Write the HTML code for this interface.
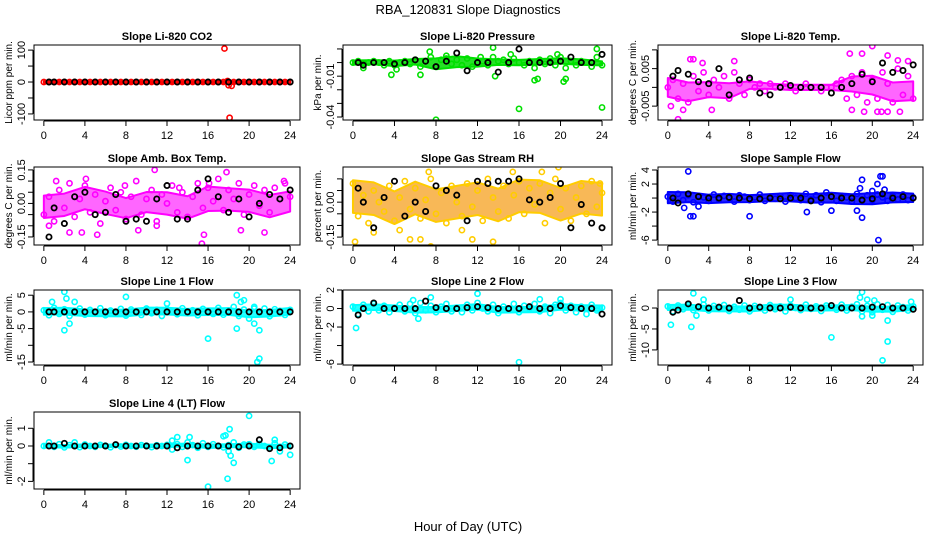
<!DOCTYPE html>
<html><head><meta charset="utf-8"><style>
html,body{margin:0;padding:0;background:#fff}
svg{display:block;font-family:"Liberation Sans",sans-serif}
</style></head><body>
<svg id="chart" width="936" height="540" viewBox="0 0 936 540" xmlns="http://www.w3.org/2000/svg">
<text x="468" y="14" text-anchor="middle" font-size="13">RBA_120831  Slope Diagnostics</text>
<text x="468" y="531" text-anchor="middle" font-size="13">Hour of Day (UTC)</text>
</svg>
<script>
const xTicks=[0,4,8,12,16,20,24];
const hours=[0,1,2,3,4,5,6,7,8,9,10,11,12,13,14,15,16,17,18,19,20,21,22,23,24];

const p1Color=[0,0,0,0,0,0,0,0,0,0,0,0,0,0,0,0,0,0,0,0,0,0,0,0,0,0,0,0,0,0,0,0,0,0,0,0,0,0,0,0,0,0,0,0,0,0,0,0,0];
const p1Band=[3,3,3,3,3,3,3,3,3,3,3,3,3];
const p1OutX=[17.6,18.1,18.0,17.9,18.3];
const p1OutY=[105,-112,-10,3,-12];
const p1Black=[0,0,0,0,0,0,0,0,0,0,0,0,0,0,0,0,0,0,0,0,0,0,0,0,0];

const p2Color=[0.000,0.001,-0.001,0.000,0.001,0.000,-0.002,0.001,-0.002,0.000,0.001,-0.001,0.002,-0.003,0.001,0.004,-0.003,0.002,0.003,-0.001,0.002,-0.002,0.003,-0.003,0.000,0.001,-0.002,0.004,0.001,0.002,-0.001,0.003,0.000,-0.002,0.001,-0.004,0.002,-0.001,0.003,-0.002,0.004,-0.004,0.001,-0.002,0.001,0.000,-0.003,0.004,-0.002];
const p2Band=[0.0015,0.0015,0.002,0.002,0.004,0.004,0.003,0.002,0.002,0.002,0.002,0.002,0.0015];
const p2OutX=[3.7,8,16,24,13.5,20.3,17.5,7.4,23.5,6.5,13.7,4.2,1,17.8,20.5,9,15.2,19.7,12.3];
const p2OutY=[-0.009,-0.042,-0.034,-0.033,0.011,-0.014,-0.013,0.008,0.01,-0.009,-0.01,-0.005,-0.004,-0.012,-0.012,0.005,0.006,0.006,0.004];
const p2Black=[0,-0.002,0,0,-0.001,0,0.002,0.001,-0.003,0.001,0.007,-0.006,0,0,-0.007,0,0.01,0,0,0,0.001,0.004,0,0,0.006];

const p3Color=[0.000,0.002,-0.003,0.001,-0.004,0.003,-0.001,0.004,-0.002,0.002,0.000,0.003,-0.003,0.004,0.001,-0.002,0.002,0.000,0.001,-0.001,0.001,0.000,0.000,0.001,0.000,-0.001,0.000,0.001,0.000,0.000,-0.001,0.000,0.000,0.001,0.002,-0.003,0.003,-0.002,0.004,-0.004,0.002,-0.003,0.004,0.001,-0.004,0.005,-0.002,0.003,-0.003];
const p3Band=[0.0025,0.0025,0.002,0.002,0.001,0.0007,0.0007,0.0007,0.0007,0.002,0.0025,0.0025,0.0025];
const p3OutX=[1,0.3,20,19,17.8,21.5,18,19.2,20.5,21.5,22.7,4.3,2.2,6.5,2.5,23.5,22.5,1.5,3.4,20.9];
const p3OutY=[-0.0085,-0.005,0.011,0.009,0.009,0.0085,-0.006,-0.0065,-0.0065,-0.0065,-0.0065,-0.006,0.0075,0.007,0.0075,0.007,0.0072,-0.006,0.0065,-0.0065];
const p3Black=[0.003,0.0045,0.0035,0.0015,0.001,0.005,-0.002,0.002,0.0025,-0.0015,-0.002,0,0.0005,0,0,0,-0.0015,0,0.001,0.0035,0.0015,0.0065,0.004,0.0045,0.006];

const p4Color=[-0.05,0.03,-0.08,0.06,-0.02,0.09,-0.06,0.02,0.08,-0.04,0.04,-0.09,0.01,0.07,-0.03,0.05,-0.07,0.03,0.10,-0.05,0.02,0.06,-0.08,0.04,0.00,0.08,-0.04,0.05,-0.06,0.03,0.09,-0.02,0.07,0.01,0.11,-0.03,0.06,0.02,0.09,-0.05,0.04,0.08,-0.01,0.06,-0.04,0.07,0.02,0.09,0.03];
const p4Band=[0.05,0.05,0.05,0.05,0.045,0.045,0.05,0.05,0.055,0.05,0.05,0.05,0.045];
const p4OutX=[2.5,3.7,4.1,1.2,0.5,15.4,15.6,10.8,17.8,11,21.5,23.4,7.9,16.1,9.2,5.2,13.2,19.2];
const p4OutY=[-0.13,-0.13,0.11,0.1,-0.1,-0.18,-0.14,0.15,0.14,-0.1,-0.13,0.1,0.08,0.09,-0.12,-0.14,0.07,-0.12];
const p4Black=[-0.15,-0.02,-0.09,0.03,0.05,-0.05,-0.04,0.04,-0.08,-0.07,-0.08,0.02,0.08,-0.07,-0.07,0.06,0.11,0.03,-0.04,0.02,-0.06,0.00,0.04,0.02,0.06];

const p5Color=[0.08,-0.06,0.03,-0.09,0.05,0.00,-0.04,0.07,-0.08,0.02,0.09,-0.03,0.06,-0.07,0.01,0.10,-0.05,0.04,-0.09,0.07,0.00,-0.06,0.08,-0.02,0.05,-0.08,0.10,0.02,-0.04,0.07,-0.07,0.03,0.09,-0.05,0.06,-0.01,0.08,-0.09,0.04,0.10,-0.03,0.06,-0.08,0.02,0.07,-0.05,0.09,-0.02,0.04];
const p5Band=[0.07,0.07,0.07,0.07,0.07,0.07,0.07,0.07,0.07,0.07,0.07,0.07,0.07];
const p5OutX=[0.2,2,4.5,5.5,6.5,7.5,11.5,13.5,7.3,19.8,15.4,23.8,18.2,10.5];
const p5OutY=[-0.17,-0.13,-0.12,-0.16,-0.16,-0.19,-0.16,-0.17,0.13,0.15,0.13,0.08,0.13,-0.12];
const p5Black=[0.06,0.00,-0.11,0.02,0.09,-0.06,0.00,-0.04,0.07,0.05,0.03,-0.08,0.09,0.08,0.09,0.09,0.10,0.01,0.00,0.02,0.08,-0.11,-0.01,-0.09,-0.11];

const p6Color=[0.2,-0.5,0.6,-0.3,0.4,-0.6,0.3,0.1,-0.4,0.5,-0.2,0.3,0.0,-0.5,0.4,0.2,-0.3,0.1,0.5,-0.4,0.2,-0.1,0.3,-0.5,0.4,0.0,-0.3,0.6,-0.2,0.4,-0.6,0.8,0.2,-0.4,0.3,0.1,-0.5,0.6,-0.2,0.4,-0.3,0.5,0.1,-0.4,0.3,-0.2,0.5,-0.3,0.1];
const p6Band=[0.8,0.7,0.6,0.6,0.5,0.5,0.6,0.6,0.7,0.7,0.8,0.7,0.6];
const p6OutX=[2,2.2,2.5,1.6,3,8,13.6,16,18.5,19,18.8,19,20,20.5,20.8,21,20.6,21.2];
const p6OutY=[3.8,-2.6,-2.6,-1.4,-1.2,-2.6,-2,-1.8,-1.8,-2.8,1.4,2.6,1.0,2,3.1,3.1,-6,1.2];
const p6Black=[0.0,-0.7,0.6,0.2,0.0,0.0,0.1,0.0,-0.1,-0.1,0.0,-0.1,0.0,0.0,-0.4,0.0,0.2,0.0,0.0,-0.3,-0.1,0.6,0.0,0.2,0.0];

const p7Color=[0.5,-1.0,1.2,-0.6,0.8,-1.2,0.3,1.0,-0.8,0.6,-0.3,1.1,-1.0,0.4,-0.5,0.9,-1.1,0.7,0.2,-0.9,1.0,-0.4,0.6,-1.2,0.8,0.0,-0.7,1.1,-0.3,0.5,-1.0,0.9,0.2,-0.6,1.2,-0.8,0.4,1.5,-1.2,0.7,-2.0,1.5,-0.5,1.0,-1.3,0.8,0.3,-0.9,0.6];
const p7Band=[1.0,1.0,1.0,1.0,1.0,1.0,1.0,1.0,1.0,1.0,1.0,1.0,1.0];
const p7OutX=[2,2.2,2.5,2,3,0.8,8,16,18.8,19.2,19.5,18.8,20.5,20.8,21,21,12,20.5];
const p7OutY=[6,4,-3.5,-5.5,3,3,4.5,-8,5,3,3.5,-5,-3.5,-15,-14,-5.5,2.5,1];
const p7Black=[0,0,0,0,0,0,0,0,0,0,0,0,0,0,0,0,0,0,0,0,0,0,0,0,0];

const p8Color=[0.2,-0.6,0.4,-0.3,0.5,-0.2,0.3,-0.4,0.1,0.4,-0.3,0.5,-0.5,0.6,-0.2,0.3,-0.4,0.2,0.5,-0.3,0.1,-0.4,0.4,-0.2,0.6,0.0,-0.3,0.4,-0.5,0.2,-0.1,0.5,-0.4,0.3,0.0,0.5,-0.3,0.2,-0.5,0.4,0.6,-0.2,0.3,-0.4,0.2,-0.6,0.4,-0.2,0.1];
const p8Band=[0.3,0.3,0.3,0.3,0.3,0.3,0.3,0.3,0.3,0.3,0.3,0.3,0.3];
const p8OutX=[0.3,16,12,7.5,6.3,18,20,5.8];
const p8OutY=[-2.1,-5.8,1.6,1.2,-1.1,1,1,0.9];
const p8Black=[-0.7,0.0,0.6,0.0,0.0,0.0,0.0,0.8,0.1,0.0,0.0,0.1,0.2,0.1,0.0,0.0,0.0,0.2,0.0,0.0,0.3,0.1,0.0,0.0,-0.6];

const p9Color=[0.4,-0.8,0.6,-0.3,0.7,-0.5,0.2,0.8,-0.6,0.5,-0.2,0.7,-0.7,0.3,-0.4,0.6,-0.8,0.5,0.1,-0.6,0.7,-0.3,0.4,-0.8,0.6,0.0,-0.5,0.8,-0.2,0.4,-0.7,0.6,0.1,-0.4,0.8,-0.6,0.3,0.9,-0.8,0.5,-1.0,0.9,-0.4,0.7,-0.9,0.6,0.2,-0.6,0.4];
const p9Band=[0.6,0.6,0.6,0.6,0.6,0.6,0.6,0.6,0.6,0.6,0.6,0.6,0.6];
const p9OutX=[0.3,2.5,2.3,2.8,3.5,12,16,19,18.8,19.5,20.2,21,21.5,21.5,19,20,23.8];
const p9OutY=[-4,3.5,-4.5,-1.8,2,2,-7,3.8,2.5,2,1.8,-12.5,-8,-3,-2,-1.8,1.5];
const p9Black=[-1.0,-0.5,1.0,0.3,0.0,0.2,0.0,1.8,0.0,0.2,0.0,0.0,0.2,0.0,0.0,0.0,0.6,0.0,0.0,0.0,0.2,0.3,0.0,0.0,-0.3];

const p10Color=[0.0,0.2,-0.05,0.1,-0.08,0.05,0.2,-0.06,0.08,0.0,-0.05,0.06,0.02,-0.07,0.05,-0.03,0.06,0.0,-0.04,0.05,0.02,-0.06,0.04,0.0,0.06,-0.2,0.1,-0.05,0.2,0.05,-0.1,0.15,-0.05,0.1,0.0,-0.08,0.05,0.2,-0.1,0.08,0.1,-0.05,0.12,0.0,-0.1,0.15,-0.05,0.08,0.0];
const p10Band=[0.07,0.07,0.07,0.07,0.07,0.07,0.07,0.08,0.1,0.08,0.1,0.1,0.08];
const p10OutX=[16,17.9,20,18.1,17.5,17.7,14,14.2,13,22.2,18.5,18.2,18,24,12.5,22.5,23];
const p10OutY=[-2.3,-1.85,1.7,0.95,0.55,0.6,-0.8,0.5,0.5,-0.85,-0.95,-0.55,-0.3,-0.5,0.3,0.35,-0.3];
const p10Black=[0,0,0.15,0,0,0,0,0.08,0,0,0,0,0,-0.1,0,0,0,0,0,-0.05,0,0.35,-0.15,-0.1,0];

const colL=[34,343,658], colR=[300,612,923];
const rowT=[45,167,290,412], rowB=[120,245,365,489];
const panels=[
 {id:"co2",title:"Slope Li-820 CO2",ylab:"Licor ppm per min.",c:0,r:0,ymin:-119,ymax:116,ticks:[-100,-50,0,50,100],labs:["-100","","0","","100"],color:"#ff0000",band:"#ff0000",op:0.85,col:p1Color,bnd:p1Band,ox:p1OutX,oy:p1OutY,bk:p1Black},
 {id:"pressure",title:"Slope Li-820 Pressure",ylab:"kPa per min.",c:1,r:0,ymin:-0.0422,ymax:0.0129,ticks:[-0.04,-0.03,-0.02,-0.01,0,0.01],labs:["-0.04","","","-0.01","",""],color:"#00e000",band:"#00dd00",op:0.85,col:p2Color,bnd:p2Band,ox:p2OutX,oy:p2OutY,bk:p2Black},
 {id:"li820-temp",title:"Slope Li-820 Temp.",ylab:"degrees C per min.",c:2,r:0,ymin:-0.0087,ymax:0.0113,ticks:[-0.005,0,0.005,0.01],labs:["-0.005","","0.005",""],color:"#ff00ff",band:"#ff00ff",op:0.6,col:p3Color,bnd:p3Band,ox:p3OutX,oy:p3OutY,bk:p3Black},
 {id:"amb-box-temp",title:"Slope Amb. Box Temp.",ylab:"degrees C per min.",c:0,r:1,ymin:-0.186,ymax:0.163,ticks:[-0.15,-0.1,-0.05,0,0.05,0.1,0.15],labs:["-0.15","","","0.00","","","0.15"],color:"#ff00ff",band:"#ff00ff",op:0.6,col:p4Color,bnd:p4Band,ox:p4OutX,oy:p4OutY,bk:p4Black},
 {id:"gas-stream-rh",title:"Slope Gas Stream RH",ylab:"percent per min.",c:1,r:1,ymin:-0.184,ymax:0.151,ticks:[-0.15,-0.1,-0.05,0,0.05,0.1],labs:["-0.15","","","0.00","",""],color:"#ffcc00",band:"#f59a10",op:0.7,col:p5Color,bnd:p5Band,ox:p5OutX,oy:p5OutY,bk:p5Black},
 {id:"sample-flow",title:"Slope Sample Flow",ylab:"ml/min per min.",c:2,r:1,ymin:-6.7,ymax:4.43,ticks:[-6,-4,-2,0,2,4],labs:["-6","","-2","","2","4"],color:"#0000ff",band:"#0000ff",op:0.85,col:p6Color,bnd:p6Band,ox:p6OutX,oy:p6OutY,bk:p6Black},
 {id:"line1-flow",title:"Slope Line 1 Flow",ylab:"ml/min per min.",c:0,r:2,ymin:-15.9,ymax:6.56,ticks:[-15,-10,-5,0,5],labs:["-15","","-5","0","5"],color:"#00ffff",band:"#00ffff",op:0.85,col:p7Color,bnd:p7Band,ox:p7OutX,oy:p7OutY,bk:p7Black},
 {id:"line2-flow",title:"Slope Line 2 Flow",ylab:"ml/min per min.",c:1,r:2,ymin:-6.1,ymax:2.0,ticks:[-6,-4,-2,0,2],labs:["-6","","-2","0","2"],color:"#00ffff",band:"#00ffff",op:0.85,col:p8Color,bnd:p8Band,ox:p8OutX,oy:p8OutY,bk:p8Black},
 {id:"line3-flow",title:"Slope Line 3 Flow",ylab:"ml/min per min.",c:2,r:2,ymin:-13.6,ymax:4.3,ticks:[-10,-5,0],labs:["-10","-5","0"],color:"#00ffff",band:"#00ffff",op:0.85,col:p9Color,bnd:p9Band,ox:p9OutX,oy:p9OutY,bk:p9Black},
 {id:"line4-flow",title:"Slope Line 4 (LT) Flow",ylab:"ml/min per min.",c:0,r:3,ymin:-2.43,ymax:1.92,ticks:[-2,-1,0,1],labs:["-2","","0","1"],color:"#00ffff",band:"#00ffff",op:0.85,col:p10Color,bnd:p10Band,ox:p10OutX,oy:p10OutY,bk:p10Black}
];
const svg=document.getElementById('chart');
const NS="http://www.w3.org/2000/svg";
function mk(tag,attrs,parent){const e=document.createElementNS(NS,tag);for(const k in attrs)e.setAttribute(k,attrs[k]);parent.appendChild(e);return e;}
panels.forEach(p=>{
  const L=colL[p.c],R=colR[p.c],T=rowT[p.r],B=rowB[p.r];
  const xs=v=>L+(v+0.96)/25.92*(R-L);
  const ys=v=>B-(v-p.ymin)/(p.ymax-p.ymin)*(B-T);
  const g=mk('g',{},svg);
  
  
  const t=mk('text',{x:(L+R)/2,y:T-5,'text-anchor':'middle','font-size':11,'font-weight':'bold'},g);
  t.textContent=p.title;
  
  
  const clip=mk('clipPath',{id:'cl'+p.id},g);
  mk('rect',{x:L,y:T,width:R-L,height:B-T},clip);
  const pg=mk('g',{'clip-path':'url(#cl'+p.id+')'},g);
  
  
  let d='';
  p.bnd.forEach((w,i)=>{const m=p.col[Math.min(i*4,p.col.length-1)]*0.3;d+=(i?'L':'M')+xs(i*2)+','+ys(m+w);});
  for(let i=p.bnd.length-1;i>=0;i--){const m=p.col[Math.min(i*4,p.col.length-1)]*0.3;d+='L'+xs(i*2)+','+ys(m-p.bnd[i]);}
  const band=mk('path',{d:d+'Z',fill:p.band,'fill-opacity':p.op,stroke:p.color,'stroke-width':2,'stroke-linejoin':'round'},pg);
  
  
  p.col.forEach((v,i)=>{
    const c=mk('circle',{cx:xs(i*0.5),cy:ys(v),r:2.6,fill:'none',stroke:p.color,'stroke-width':1.6},pg);
    
    
  });
  p.ox.forEach((xv,i)=>{
    const c=mk('circle',{cx:xs(xv),cy:ys(p.oy[i]),r:2.6,fill:'none',stroke:p.color,'stroke-width':1.6},pg);
    
    
  });
  p.bk.forEach((v,i)=>{
    const c=mk('circle',{cx:xs(Math.max(hours[i],0.5)),cy:ys(v),r:2.6,fill:'none',stroke:'#000','stroke-width':1.8},pg);
    
    
  });
  const box=mk('rect',{x:L,y:T,width:R-L,height:B-T,fill:'none',stroke:'#000','stroke-width':1},g);
  
  
  const xa=mk('g',{},g);
  
  
  mk('line',{x1:xs(0),x2:xs(24),y1:B+1,y2:B+1,stroke:'#000'},xa);
  xTicks.forEach(v=>{
    mk('line',{x1:xs(v),x2:xs(v),y1:B+1,y2:B+6,stroke:'#000'},xa);
    const tl=mk('text',{x:xs(v),y:B+19,'text-anchor':'middle','font-size':11},xa);
    tl.textContent=v;
    
    
  });
  const ya=mk('g',{},g);
  
  
  mk('line',{x1:L-1,x2:L-1,y1:ys(p.ticks[0]),y2:ys(p.ticks[p.ticks.length-1]),stroke:'#000'},ya);
  p.ticks.forEach((v,i)=>{
    mk('line',{x1:L-6,x2:L-1,y1:ys(v),y2:ys(v),stroke:'#000'},ya);
    if(p.labs[i]){
      const tl=mk('text',{x:0,y:0,'text-anchor':'middle','font-size':11,transform:'translate('+(L-9)+','+ys(v)+') rotate(-90)'},ya);
      tl.textContent=p.labs[i];
      
      
    }
  });
  const yt=mk('text',{x:0,y:0,'text-anchor':'middle','font-size':10,transform:'translate('+(L-22)+','+((T+B)/2)+') rotate(-90)'},g);
  yt.textContent=p.ylab;
  
  
});
</script>
</body></html>
